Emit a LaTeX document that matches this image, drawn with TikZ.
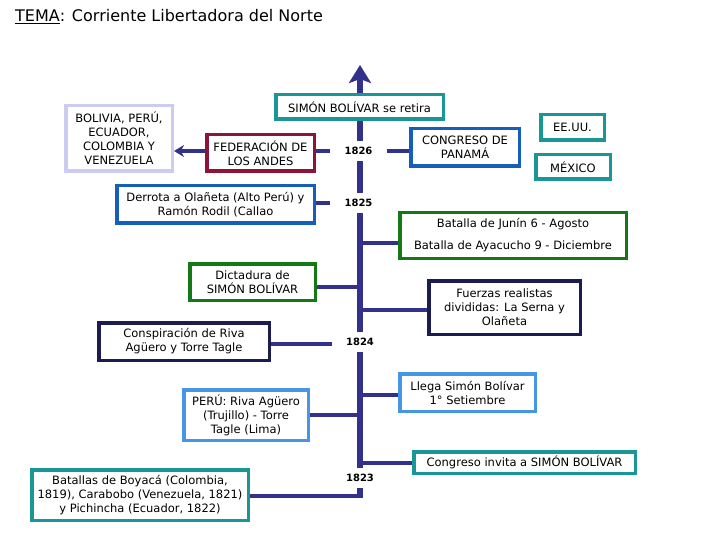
\documentclass[tikz,border=0pt]{standalone}
\usepackage{fontspec}
\setmainfont{DejaVu Sans}
\usetikzlibrary{arrows.meta,backgrounds}
\definecolor{spinec}{RGB}{50,50,140}
\definecolor{tealc}{RGB}{25,150,150}
\definecolor{lavc}{RGB}{204,204,240}
\definecolor{redc}{RGB}{140,20,55}
\definecolor{bluec}{RGB}{20,95,185}
\definecolor{greenc}{RGB}{20,120,20}
\definecolor{navyc}{RGB}{28,28,80}
\definecolor{lbluec}{RGB}{70,150,230}
\tikzset{
  box/.style={draw, line width=3.5pt, fill=white, inner sep=0pt, align=center,
    font=\fontsize{11.5}{14}\selectfont},
  conn/.style={draw=spinec, line width=4pt},
  yearlbl/.style={fill=white, inner sep=0pt, minimum width=57pt, minimum height=20pt,
    font=\fontsize{10}{11}\selectfont\bfseries},
}
\begin{document}
\begin{tikzpicture}[x=1pt,y=-1pt]
\useasboundingbox (0,0) rectangle (720,540);

% title
\node[anchor=base west, inner sep=0pt, font=\fontsize{16}{18}\selectfont] (title) at (15,22)
  {\underline{TEMA}: Corriente Libertadora del Norte};

% spine coordinates
\coordinate (spinetop) at (360,65);
\coordinate (spinebot) at (360,496);

% boxes
\node[box, draw=tealc, minimum width=167.5pt, minimum height=24.5pt] (retira) at (359.5,107) {SIMÓN BOLÍVAR se retira};
\node[box, draw=lavc, minimum width=106.5pt, minimum height=65.5pt] (bolivia) at (119,138.5) {BOLIVIA, PERÚ,\\ECUADOR,\\COLOMBIA Y\\VENEZUELA};
\node[box, draw=redc, minimum width=107.5pt, minimum height=36.5pt] (fed) at (260.5,153) {FEDERACIÓN DE\\LOS ANDES};
\node[box, draw=bluec, minimum width=108.5pt, minimum height=37.5pt] (congreso) at (465,147.5) {CONGRESO DE\\PANAMÁ};
\node[box, draw=tealc, minimum width=63.5pt, minimum height=25.5pt] (eeuu) at (572.5,127.5) {EE.UU.};
\node[box, draw=tealc, minimum width=74.5pt, minimum height=24.5pt] (mexico) at (573,167) {MÉXICO};
\node[box, draw=bluec, minimum width=197.5pt, minimum height=37.5pt] (derrota) at (215.5,204.5) {Derrota a Olañeta (Alto Perú) y\\Ramón Rodil (Callao};
\node[box, draw=greenc, minimum width=226.5pt, minimum height=45.5pt] (batalla) at (513,235.5) {Batalla de Junín 6 - Agosto\\[8pt]Batalla de Ayacucho 9 - Diciembre};
\node[box, draw=greenc, minimum width=125.5pt, minimum height=36.5pt] (dict) at (252.5,282) {Dictadura de\\SIMÓN BOLÍVAR};
\node[box, draw=navyc, minimum width=151.5pt, minimum height=53.5pt] (fuerzas) at (504.5,307.5) {Fuerzas realistas\\divididas: La Serna y\\Olañeta};
\node[box, draw=navyc, minimum width=170.5pt, minimum height=37.5pt] (consp) at (184,341.5) {Conspiración de Riva\\Agüero y Torre Tagle};
\node[box, draw=lbluec, minimum width=124.5pt, minimum height=50.5pt] (peru) at (246,415) {PERÚ: Riva Agüero\\(Trujillo) - Torre\\Tagle (Lima)};
\node[box, draw=lbluec, minimum width=135.5pt, minimum height=37.5pt] (llega) at (467.5,392.5) {Llega Simón Bolívar\\1° Setiembre};
\node[box, draw=tealc, minimum width=221.5pt, minimum height=21.5pt] (invita) at (524.5,462.5) {Congreso invita a SIMÓN BOLÍVAR};
\node[box, draw=tealc, minimum width=216.5pt, minimum height=50.5pt] (batallas) at (140,495) {Batallas de Boyacá (Colombia,\\1819), Carabobo (Venezuela, 1821)\\y Pichincha (Ecuador, 1822)};

% year labels
\node[yearlbl] (y1826) at (358.5,151) {1826};
\node[yearlbl] (y1825) at (358.5,203) {1825};
\node[yearlbl] (y1824) at (360,342) {1824};
\node[yearlbl] (y1823) at (360,477.5) {1823};

\begin{scope}[on background layer]
  \fill[white] (0,0) rectangle (720,540);
  % spine
  \draw[spinec, line width=6pt, -{Stealth[length=18pt,width=22pt,inset=4pt]}] (spinebot) -- (spinetop);
  \draw[conn] (batallas.east |- spinebot) -- ([xshift=3pt]spinebot);
  % 1826
  \draw[conn, -{Stealth[length=10pt,width=12pt]}] (fed.west |- y1826) -- (bolivia.east |- y1826);
  \draw[conn] (fed.east |- y1826) -- (congreso.west |- y1826);
  % 1825
  \draw[conn] (derrota.east |- y1825) -- (y1825);
  \draw[conn] ([yshift=-7.5pt]batalla.west) -- ([yshift=-7.5pt]batalla.west -| spinetop);
  % 1824
  \draw[conn] ([yshift=-5pt]dict.east) -- ([yshift=-5pt]dict.east -| spinetop);
  \draw[conn] ([yshift=-2.5pt]fuerzas.west) -- ([yshift=-2.5pt]fuerzas.west -| spinetop);
  \draw[conn] ([yshift=-2.5pt]consp.east) -- ([yshift=-2.5pt]consp.east -| y1824);
  \draw[conn] (peru.east) -- (peru.east -| spinetop);
  \draw[conn] ([yshift=-2.5pt]llega.west) -- ([yshift=-2.5pt]llega.west -| spinetop);
  % 1823
  \draw[conn] (invita.west) -- (invita.west -| spinetop);
\end{scope}
\end{tikzpicture}
\end{document}
